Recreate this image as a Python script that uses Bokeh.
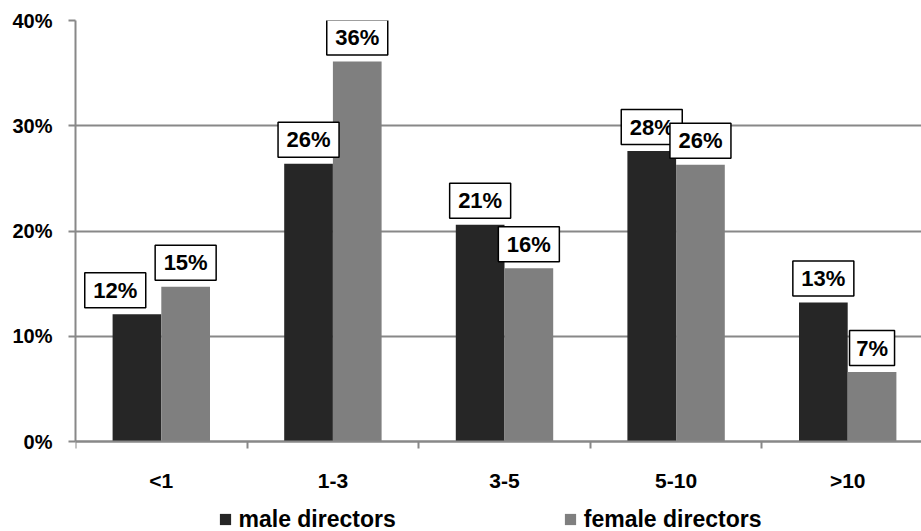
from bokeh.plotting import figure
from bokeh.models import Range1d, FixedTicker, PrintfTickFormatter, Legend, LegendItem
from bokeh.embed import file_html
from bokeh.resources import INLINE
from bokeh.core.properties import value

# ---- data ----
categories = ["<1", "1-3", "3-5", "5-10", ">10"]
male = [12.1, 26.4, 20.6, 27.6, 13.2]
female = [14.7, 36.1, 16.46, 26.3, 6.6]
y_ticks = [0, 10, 20, 30, 40]
series_names = ["male directors", "female directors"]

# ---- layout / style ----
W, H = 921, 531
FL, FT = 75, 20
ppu = 421 / 40.0                # pixels per percent (0% line at y=441)
cat_px = 171.6                  # pixels per category
x_end = (W - FL) / cat_px
y_start = 40 - (H - FT) / ppu   # frame reaches the page bottom
bw = 48.7 / cat_px              # bar width in category units
MALE_C, FEMALE_C = "#262626", "#7f7f7f"
GRID_C = "#888888"
FONT = "Liberation Sans"

p = figure(width=W, height=H, output_backend="svg", toolbar_location=None,
           x_range=Range1d(0, x_end), y_range=Range1d(y_start, 40),
           min_border_left=FL, min_border_right=0, min_border_top=FT,
           min_border_bottom=0)
p.outline_line_color = None
p.background_fill_color = "white"
p.border_fill_color = "white"

xs = [i + 0.5 for i in range(len(categories))]
xm = [x - bw / 2 for x in xs]
xf = [x + bw / 2 for x in xs]

r_male = p.vbar(x=xm, top=male, bottom=0, width=bw, fill_color=MALE_C, line_color=None)
r_female = p.vbar(x=xf, top=female, bottom=0, width=bw, fill_color=FEMALE_C, line_color=None)

# data labels (boxed)
gap_px = 24.0
shift_m = [-21.7 / cat_px, 0, 0, 0, 0]
for xpos, vals, shifts in ((xm, male, shift_m), (xf, female, [0] * 5)):
    lx = [x + s for x, s in zip(xpos, shifts)]
    ly = [v + gap_px / ppu for v in vals]
    txt = [f"{round(v):.0f}%" for v in vals]
    wd = [61 if len(t) == 3 else 45 for t in txt]
    p.rect(x=lx, y=ly, width=wd, height=35, width_units="screen", height_units="screen",
           fill_color="white", line_color="black", line_width=1.5)
    p.text(x=lx, y=ly, text=txt, text_align="center", text_baseline="middle",
           text_font=value(FONT), text_font_style="bold", text_font_size="22px",
           text_color="black")

# axes
p.xaxis.fixed_location = 0
p.xaxis.ticker = FixedTicker(ticks=xs, minor_ticks=[0, 1, 2, 3, 4])
p.xaxis.major_label_overrides = {x: c for x, c in zip(xs, categories)}
p.xaxis.major_tick_out = 0
p.xaxis.major_tick_in = 0
p.xaxis.major_tick_line_color = None
p.xaxis.minor_tick_out = 7
p.xaxis.minor_tick_in = 0
p.xaxis.minor_tick_line_color = GRID_C
p.xaxis.minor_tick_line_width = 2
p.xaxis.axis_line_color = GRID_C
p.xaxis.axis_line_width = 2
p.xaxis.major_label_standoff = 20

p.yaxis.bounds = (0, 40)
p.yaxis.ticker = FixedTicker(ticks=y_ticks, minor_ticks=[])
p.yaxis.formatter = PrintfTickFormatter(format="%d%%")
p.yaxis.major_tick_out = 7
p.yaxis.major_tick_in = 0
p.yaxis.major_tick_line_color = GRID_C
p.yaxis.major_tick_line_width = 2
p.yaxis.minor_tick_line_color = None
p.yaxis.axis_line_color = GRID_C
p.yaxis.axis_line_width = 2
p.yaxis.major_label_standoff = 16

for ax, fs in ((p.xaxis, "21px"), (p.yaxis, "20px")):
    ax.major_label_text_font = FONT
    ax.major_label_text_font_style = "bold"
    ax.major_label_text_font_size = fs
    ax.major_label_text_color = "black"

p.xgrid.visible = False
p.ygrid.ticker = FixedTicker(ticks=y_ticks)
p.ygrid.grid_line_color = GRID_C
p.ygrid.grid_line_width = 2

# legend (square swatches; size-0 proxies so nothing extra is drawn in the plot)
r_m = p.scatter(x=xm, y=male, size=0, marker="square", fill_color=MALE_C, line_color=None)
r_f = p.scatter(x=xf, y=female, size=0, marker="square", fill_color=FEMALE_C, line_color=None)
legend = Legend(items=[LegendItem(label=series_names[0], renderers=[r_m]),
                       LegendItem(label=series_names[1], renderers=[r_f])],
                orientation="horizontal", location=(135.5, -3),
                glyph_width=28, glyph_height=30, label_standoff=0, spacing=160,
                padding=0, margin=0, border_line_color=None,
                background_fill_alpha=0,
                label_text_font=FONT, label_text_font_style="bold",
                label_text_font_size="23px", label_text_color="black")
p.add_layout(legend)

open("out.html", "w").write(file_html(p, INLINE))
